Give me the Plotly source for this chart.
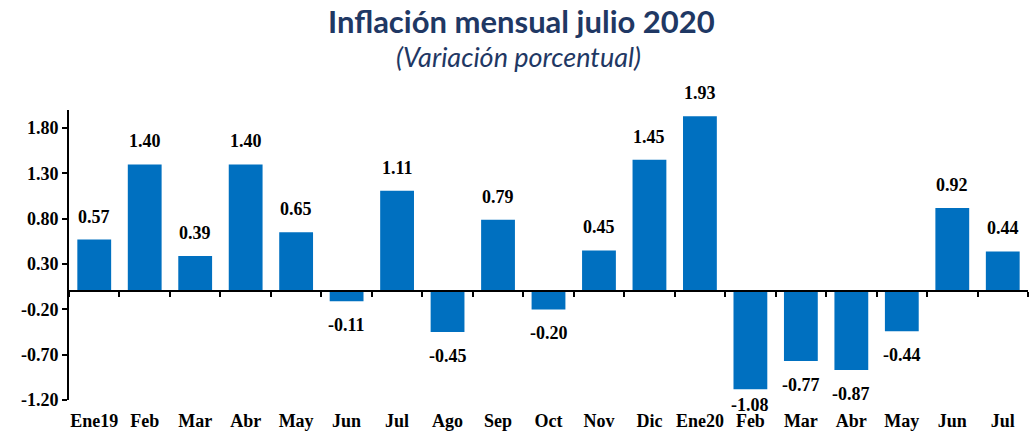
import plotly.graph_objects as go

categories = ["Ene19", "Feb", "Mar", "Abr", "May", "Jun", "Jul", "Ago", "Sep", "Oct",
              "Nov", "Dic", "Ene20", "Feb", "Mar", "Abr", "May", "Jun", "Jul"]
values = [0.57, 1.40, 0.39, 1.40, 0.65, -0.11, 1.11, -0.45, 0.79, -0.20,
          0.45, 1.45, 1.93, -1.08, -0.77, -0.87, -0.44, 0.92, 0.44]
ytick_vals = [-1.20, -0.70, -0.20, 0.30, 0.80, 1.30, 1.80]

idx = list(range(len(categories)))
serif = "Liberation Serif, Times New Roman, serif"
navy = "#1F3864"
W, H = 1036, 431
ML, MR, MT, MB = 69, 8, 110, 31

fig = go.Figure()
fig.add_trace(go.Bar(
    x=idx, y=values, width=0.67,
    marker=dict(color="#0070C0", line=dict(width=0)),
    cliponaxis=False, showlegend=False, hoverinfo="x+y",
))
# invisible trace to host the zero-line axis with boundary ticks
fig.add_trace(go.Scatter(x=idx, y=values, xaxis="x2", mode="markers",
                         marker=dict(opacity=0), showlegend=False, hoverinfo="skip"))

yr = [-1.2, 2.0]
annotations = []
for i, v in zip(idx, values):
    pos = v >= 0
    shift = 11 if pos else (4 if v < -1.0 else 12)
    annotations.append(dict(
        x=i, y=v, xref="x", yref="y", text=f"<b>{v:.2f}</b>", showarrow=False,
        yanchor="bottom" if pos else "top", yshift=shift if pos else -shift,
        font=dict(family=serif, size=18, color="black"),
    ))

plot_w = W - ML - MR
plot_h = H - MT - MB
annotations += [
    dict(text="<b>Inflación mensual julio 2020</b>", x=(521 - ML) / plot_w, xref="paper",
         y=1 + (MT - 21) / plot_h, yref="paper", yanchor="middle", xanchor="center",
         showarrow=False, font=dict(family="Lato, sans-serif", size=31, color=navy)),
    dict(text="<i>(Variación porcentual)</i>", x=(518 - ML) / plot_w, xref="paper",
         y=1 + (MT - 57) / plot_h, yref="paper", yanchor="middle", xanchor="center",
         showarrow=False, font=dict(family="Lato, sans-serif", size=27, color=navy)),
]

fig.update_layout(
    width=W, height=H,
    paper_bgcolor="white", plot_bgcolor="white",
    margin=dict(l=ML, r=MR, t=MT, b=MB, pad=0, autoexpand=False),
    xaxis=dict(range=[-0.5, 18.5], tickvals=idx, automargin=False,
               ticktext=[f"<b>{c}</b>" for c in categories],
               showline=False, showgrid=False, zeroline=False,
               ticks="outside", ticklen=4, tickcolor="rgba(0,0,0,0)",
               tickfont=dict(family=serif, size=18, color="black")),
    xaxis2=dict(range=[-0.5, 18.5], overlaying="x", anchor="free", automargin=False,
                position=(0 - yr[0]) / (yr[1] - yr[0]),
                showline=True, linecolor="black", linewidth=2,
                ticks="outside", ticklen=5, tickwidth=2, tickcolor="black",
                tick0=0.5, dtick=1, showticklabels=False, showgrid=False, zeroline=False),
    yaxis=dict(range=yr, tickvals=ytick_vals, automargin=False,
               ticktext=[f"<b>{v:.2f}</b>" for v in ytick_vals],
               showline=True, linecolor="black", linewidth=2,
               ticks="outside", ticklen=5, tickwidth=2, tickcolor="black",
               showgrid=False, zeroline=False,
               tickfont=dict(family=serif, size=18, color="black")),
    annotations=annotations,
)

fig.write_html("out.html", config={"displayModeBar": False},
               post_script="document.body.style.margin='0';document.body.style.overflow='hidden';")
